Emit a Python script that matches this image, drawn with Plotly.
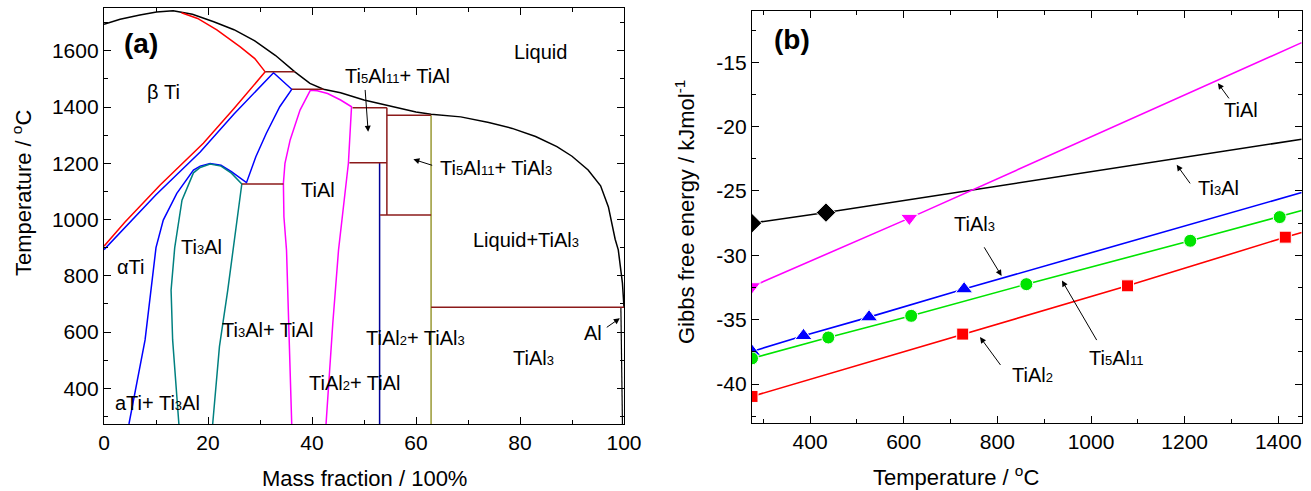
import plotly.graph_objects as go

FONT = "Liberation Sans, Arial, sans-serif"

# ---------------- Panel (a): Ti-Al phase diagram (mass fraction Al %, T in °C) ----------------
liq_x = [0, 3.1, 6.9, 10.1, 13.3, 17, 21.1, 25, 29, 33, 36.7, 39.6, 42.2, 45.5, 50, 55.4, 60, 62.9, 68.6, 74, 78.5, 83, 87.1, 90, 93.1, 95.5, 97, 98.3, 98.9, 99.7, 100]
liq_T = [1694, 1712, 1727, 1738, 1742, 1730, 1703, 1675, 1635, 1583, 1525, 1484, 1463, 1451, 1425, 1401, 1382, 1374, 1365, 1345, 1324, 1295, 1259, 1225, 1176, 1120, 1045, 930, 892, 774, 688]

red_top_x = [14.9, 18, 21.7, 26.2, 29, 31]
red_top_T = [1735, 1715, 1674, 1614, 1572, 1525]
red_low_x = [0, 4, 10.8, 19.1, 25, 31]
red_low_T = [905, 990, 1123, 1271, 1395, 1525]

blue_beta_x = [0, 4, 10, 18.5, 25, 32.6, 36.1, 33.8, 31.2, 29.2, 27.4, 24.5, 22.5, 20.4, 18.5, 17.2, 14, 11.4, 10, 7.9, 4.8]
blue_beta_T = [893, 972, 1088, 1240, 1375, 1522, 1463, 1401, 1306, 1223, 1131, 1170, 1193, 1199, 1190, 1176, 1093, 998, 900, 572, 273]

teal_x = [14.4, 13.2, 12.9, 13.6, 15, 17.2, 18.5, 20.4, 22.5, 24.5, 26.5, 24.9, 23.8, 22.2, 20.9]
teal_T = [273, 572, 749, 900, 1069, 1166, 1185, 1197, 1190, 1165, 1126, 891, 749, 548, 273]

mag_x = [36.1, 35.6, 35.1, 34.6, 34.5, 34.8, 35.8, 37.7, 39.7, 41, 43, 45.5, 47.6, 47.0, 45.1, 44.0, 42.7]
mag_T = [273, 572, 891, 1010, 1129, 1200, 1283, 1389, 1460, 1458, 1448, 1425, 1401, 1200, 891, 631, 273]

navy_x = [53.0, 53.0]
navy_T = [1204, 273]
olive_x = [62.9, 62.9]
olive_T = [1371, 273]
al_x = [99.4, 99.7]
al_T = [688, 273]

# invariant (horizontal) lines and the Ti5Al11 box, drawn in dark red
brown_segments = [
    ([31.0, 36.7], [1525, 1525]),
    ([36.1, 42.2], [1463, 1463]),
    ([26.5, 34.5], [1126, 1126]),
    ([47.8, 54.4], [1397, 1397]),
    ([54.4, 54.4], [1397, 1016]),
    ([54.4, 62.9], [1371, 1371]),
    ([47.2, 54.4], [1202, 1202]),
    ([53.1, 62.9], [1016, 1016]),
    ([62.9, 100], [688, 688]),
]

# ---------------- Panel (b): Gibbs free energy vs temperature ----------------
T_end = 1450
tial3_T = [276, 386, 526, 729]
tial3_G = [-37.47, -36.25, -34.8, -32.62]
tial3_Gend = -25.12
ti5al11_T = [276, 439, 616, 862, 1212, 1403]
ti5al11_G = [-38.0, -36.38, -34.7, -32.24, -28.87, -27.03]
ti5al11_Gend = -26.52
tial2_T = [276, 726, 1078, 1415]
tial2_G = [-40.96, -36.12, -32.37, -28.59]
tial2_Gend = -28.23
ti3al_T = [276, 434]
ti3al_G = [-27.5, -26.68]
ti3al_Gend = -20.98
tial_T = [276, 612]
tial_G = [-32.42, -27.11]
tial_Gend = -13.48

g_ticks = [-40, -35, -30, -25, -20, -15]
g_ticktext = ["-40", "-35", "-30", "-25", "-20", "-15"]

fig = go.Figure()

def ln(x, y, color, width=1.5, xa="x", ya="y"):
    fig.add_trace(go.Scatter(x=x, y=y, mode="lines", line=dict(color=color, width=width),
                             xaxis=xa, yaxis=ya, showlegend=False, hoverinfo="skip"))

ln(liq_x, liq_T, "black")
ln(red_top_x, red_top_T, "#ff0000")
ln(red_low_x, red_low_T, "#ff0000")
ln(blue_beta_x, blue_beta_T, "#0000ff")
ln(teal_x, teal_T, "#008080")
ln(mag_x, mag_T, "#ff00ff")
ln(navy_x, navy_T, "#000099")
ln(olive_x, olive_T, "#999933")
ln(al_x, al_T, "black", 1.2)
for sx, sy in brown_segments:
    ln(sx, sy, "#8b1a1a")

series = [
    (tial3_T, tial3_G, tial3_Gend, "#0000ff", "triangle-up", 15),
    (ti5al11_T, ti5al11_G, ti5al11_Gend, "#00e400", "circle", 13),
    (tial2_T, tial2_G, tial2_Gend, "#ff0000", "square", 12),
    (ti3al_T, ti3al_G, ti3al_Gend, "black", "diamond", 15),
    (tial_T, tial_G, tial_Gend, "#ff00ff", "triangle-down", 15),
]
for T, G, Gend, col, sym, sz in series:
    ln(T + [T_end], G + [Gend], col, 1.6, "x2", "y2")
    fig.add_trace(go.Scatter(x=T, y=G, mode="markers", xaxis="x2", yaxis="y2",
                             marker=dict(symbol=sym, size=sz, color=col, line=dict(color="white", width=1)),
                             showlegend=False, hoverinfo="skip"))

def sub(s):
    return "<span style='font-size:13px'>" + s + "</span>"

W, H = 1311, 491
ann = []
def txt(x, y, t, xr="x", yr="y", size=20, xanchor="center", bold=False, angle=0):
    if bold:
        t = "<b>" + t + "</b>"
    ann.append(dict(x=x, y=y, xref=xr, yref=yr, text=t, showarrow=False, xanchor=xanchor,
                    yanchor="middle", textangle=angle,
                    font=dict(family=FONT, size=size, color="black")))

def arrow(x, y, ax, ay, xr="x", yr="y"):
    ann.append(dict(x=x, y=y, ax=ax, ay=ay, xref=xr, yref=yr, axref=xr, ayref=yr, text="",
                    showarrow=True, arrowhead=2, arrowsize=1.2, arrowwidth=1, arrowcolor="black"))

# axis titles (placed in page pixels converted to paper fractions)
txt(364 / W, 1 - 478 / H, "Mass fraction / 100%", "paper", "paper", size=22)
txt(22 / W, 1 - 193 / H, "Temperature / <sup>o</sup>C", "paper", "paper", size=22, angle=-90)
txt(956 / W, 1 - 476 / H, "Temperature / <sup>o</sup>C", "paper", "paper", size=22)
txt(685 / W, 1 - 212 / H, "Gibbs free energy / kJmol<sup>-1</sup>", "paper", "paper", size=22, angle=-90)

# panel (a) labels
txt(7.2, 1626, "(a)", size=28, bold=True)
txt(83.9, 1596, "Liquid")
txt(11.4, 1454, "β Ti")
txt(56.4, 1510, "Ti" + sub("5") + "Al" + sub("11") + "+ TiAl")
txt(41.2, 1105, "TiAl")
txt(64.3, 1183, "Ti" + sub("5") + "Al" + sub("11") + "+ TiAl" + sub("3"), xanchor="left")
txt(81.2, 927, "Liquid+TiAl" + sub("3"))
txt(5.0, 832, "αTi")
txt(18.8, 903, "Ti" + sub("3") + "Al")
txt(31.5, 607, "Ti" + sub("3") + "Al+ TiAl")
txt(59.9, 578, "TiAl" + sub("2") + "+ TiAl" + sub("3"))
txt(82.5, 506, "TiAl" + sub("3"))
txt(48.3, 418, "TiAl" + sub("2") + "+ TiAl")
txt(10.3, 347, "aTi+ Ti" + sub("3") + "Al")
txt(94.1, 595, "Al")
arrow(50.8, 1312, 50.2, 1466)
arrow(59.5, 1214, 63.4, 1191)
arrow(99.2, 649, 96.4, 613)

# panel (b) labels
txt(361, -13.27, "(b)", "x2", "y2", size=28, bold=True)
txt(1321, -18.7, "TiAl", "x2", "y2")
txt(1272, -24.8, "Ti" + sub("3") + "Al", "x2", "y2")
txt(752, -27.55, "TiAl" + sub("3"), "x2", "y2")
txt(1054, -38.0, "Ti" + sub("5") + "Al" + sub("11"), "x2", "y2")
txt(876, -39.28, "TiAl" + sub("2"), "x2", "y2")
arrow(1271, -16.63, 1297, -17.93, "x2", "y2")
arrow(1183, -22.97, 1214, -24.53, "x2", "y2")
arrow(809, -31.6, 770, -29.26, "x2", "y2")
arrow(938, -31.96, 1014, -36.7, "x2", "y2")
arrow(763, -36.35, 809, -38.63, "x2", "y2")

def ax_common(**kw):
    d = dict(showline=True, linecolor="black", linewidth=1.3, mirror="allticks",
             ticks="inside", ticklen=7, tickwidth=1.2, tickcolor="black",
             showgrid=False, zeroline=False, automargin=False,
             tickfont=dict(family=FONT, size=21, color="black"))
    d.update(kw)
    return d

fig.update_layout(
    width=W, height=H, margin=dict(l=0, r=0, t=0, b=0),
    paper_bgcolor="white", plot_bgcolor="white",
    annotations=ann,
    xaxis=ax_common(domain=[104 / W, 624 / W], range=[0, 100], dtick=20, tick0=0,
                    minor=dict(ticks="inside", dtick=10, ticklen=4, tickcolor="black"), anchor="y"),
    yaxis=ax_common(domain=[1 - 424 / H, 1 - 8.3 / H], range=[273, 1751], dtick=200, tick0=0,
                    minor=dict(ticks="inside", dtick=100, ticklen=4, tickcolor="black"), anchor="x"),
    xaxis2=ax_common(domain=[752 / W, 1301.7 / W], range=[276, 1450], dtick=200, tick0=0,
                     minor=dict(ticks="inside", dtick=100, ticklen=4, tickcolor="black"), anchor="y2"),
    yaxis2=ax_common(domain=[1 - 422.7 / H, 1 - 10.7 / H], range=[-43, -11],
                     tickmode="array", tickvals=g_ticks, ticktext=g_ticktext,
                     minor=dict(ticks="inside", dtick=2.5, tick0=0, ticklen=4, tickcolor="black"),
                     anchor="x2"),
)

fig.write_html("out.html", config={"displayModeBar": False},
               post_script="document.body.style.margin='0';document.body.style.overflow='hidden';")
